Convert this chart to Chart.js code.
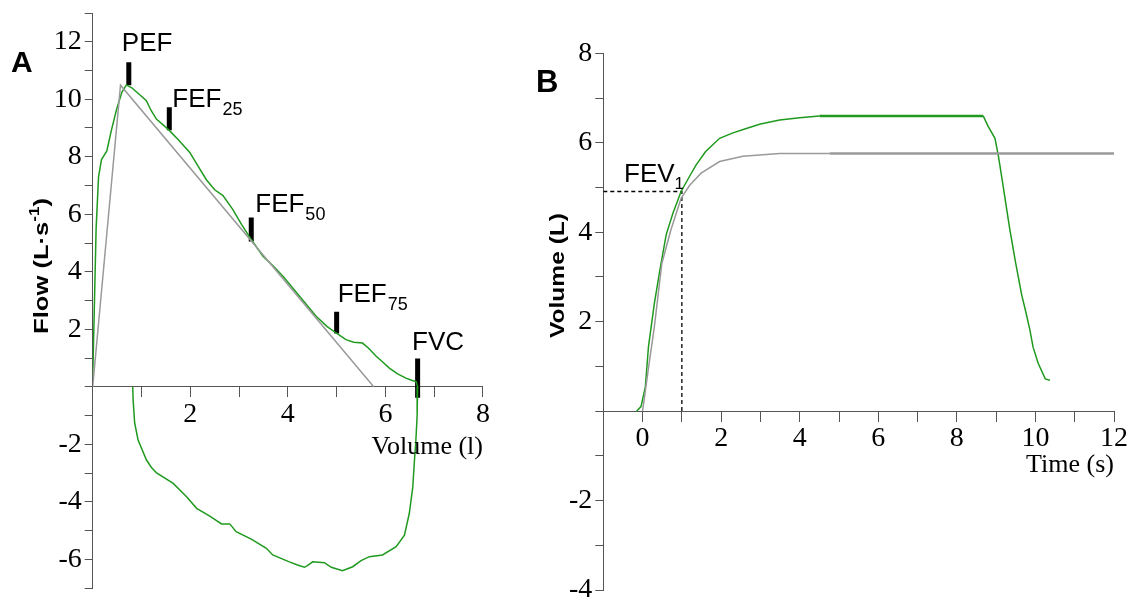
<!DOCTYPE html>
<html>
<head>
<meta charset="utf-8">
<script src="https://cdn.jsdelivr.net/npm/chart.js@4.4.1/dist/chart.umd.min.js"></script>
<style>
  html, body { margin: 0; padding: 0; background: #fff; }
  #wrap { position: relative; width: 1135px; height: 599px; overflow: hidden; }
  canvas { position: absolute; left: 0; top: 0; }
</style>
</head>
<body>
<div id="wrap">
  <canvas id="loopChart" width="1135" height="599"></canvas>
  <canvas id="timeChart" width="1135" height="599"></canvas>
</div>
<script>
// Panel A: Fluss-Volumen-Schleife (Volumen in l, Fluss in L/s)
const loopVolume = [0.0, 0.03, 0.07, 0.12, 0.18, 0.29, 0.38, 0.49, 0.6, 0.69, 0.8, 0.97, 1.1, 1.2, 1.31, 1.45, 1.58, 1.75, 1.99, 2.15, 2.33, 2.5, 2.67, 2.87, 3.05, 3.25, 3.49, 3.7, 3.9, 4.24, 4.58, 4.8, 4.99, 5.19, 5.35, 5.53, 5.65, 5.81, 5.95, 6.08, 6.25, 6.42, 6.55, 6.63,
  6.66, 6.65, 6.62, 6.6, 6.56, 6.49, 6.39, 6.22, 5.94, 5.67, 5.5, 5.33, 5.12, 4.89, 4.75, 4.51, 4.4, 4.34, 4.2, 4.03, 3.69, 3.56, 3.25, 2.94, 2.81, 2.64, 2.4, 2.13, 1.92, 1.65, 1.31, 1.2, 1.1, 0.93, 0.86, 0.83, 0.82];
const loopFlow = [0.3, 2.5, 5.5, 7.3, 7.9, 8.2, 8.9, 9.65, 10.25, 10.5, 10.4, 10.15, 9.95, 9.6, 9.3, 9.1, 8.9, 8.6, 8.15, 7.7, 7.2, 6.85, 6.65, 6.17, 5.65, 5.12, 4.54, 4.2, 3.84, 3.15, 2.45, 2.1, 1.87, 1.64, 1.55, 1.52, 1.35, 1.06, 0.85, 0.65, 0.45, 0.3, 0.22, 0.18,
  0.0, -1.0, -2.0, -2.43, -3.5, -4.4, -5.16, -5.56, -5.85, -5.91, -6.05, -6.26, -6.4, -6.28, -6.12, -6.09, -6.22, -6.28, -6.2, -6.09, -5.85, -5.62, -5.3, -5.04, -4.77, -4.77, -4.5, -4.23, -3.82, -3.36, -3.0, -2.8, -2.54, -1.85, -1.26, -0.5, 0.0];
const idealVolume = [0, 0.57, 5.76];
const idealFlow = [0, 10.49, 0];

// Markierungen PEF / FEF / FVC
const markerNames = ['PEF', 'FEF', 'FEF', 'FEF', 'FVC'];
const markerSubs = ['', '25', '50', '75', ''];
const markerVolume = [0.74, 1.57, 3.25, 5.0, 6.66];
const markerFlowLow = [10.49, 8.92, 5.05, 1.85, -0.38];
const markerFlowHigh = [11.29, 9.72, 5.89, 2.61, 0.98];

const flowTickLabels = [12, 10, 8, 6, 4, 2, -2, -4, -6];
const volumeTickLabels = [2, 4, 6, 8];

// Panel B: Volumen-Zeit-Kurve
const timeGreen = [-0.15, -0.04, 0.07, 0.15, 0.3, 0.44, 0.6, 0.77, 0.98, 1.19, 1.36, 1.6, 1.96, 2.3, 2.64, 3.0, 3.49, 4.0, 4.5, 6.0, 7.5, 8.67, 8.8, 8.97, 9.06, 9.18, 9.35, 9.5, 9.65, 9.76, 9.86, 9.94, 10.07, 10.25, 10.37];
const volumeGreen = [0, 0.1, 0.54, 1.44, 2.41, 3.15, 3.94, 4.42, 4.91, 5.24, 5.5, 5.8, 6.1, 6.22, 6.32, 6.42, 6.51, 6.56, 6.6, 6.6, 6.6, 6.6, 6.36, 6.1, 5.69, 5.02, 4.05, 3.3, 2.6, 2.2, 1.81, 1.43, 1.07, 0.72, 0.69];
const timeGray = [0, 0.13, 0.3, 0.49, 0.72, 0.98, 1.2, 1.49, 1.96, 2.55, 3.49, 4.76, 12];
const volumeGray = [0, 0.84, 1.89, 3.3, 4.05, 4.76, 5.05, 5.32, 5.58, 5.7, 5.76, 5.76, 5.76];
const fev1Time = 1.0;
const fev1Volume = 4.91;

const timeTickLabels = [0, 2, 4, 6, 8, 10, 12];
const volTimeTickLabels = [8, 6, 4, 2, -2, -4];

const GREEN = '#1f9a1f';
const GRAY = '#9a9a9a';
const AXIS = '#555555';
const serif = "'Liberation Serif', 'Times New Roman', serif";
const sans = "'Liberation Sans', Arial, sans-serif";

const pts = (xs, ys) => xs.map((x, i) => ({ x: x, y: ys[i] }));

function axis(min, max, labels, tickLen, pad, afterFit, position) {
  return {
    type: 'linear',
    position: position,
    min: min,
    max: max,
    afterFit: afterFit,
    ticks: {
      stepSize: 1,
      autoSkip: false,
      maxRotation: 0,
      padding: pad,
      color: '#000',
      font: { family: serif, size: 28 },
      callback: v => labels.includes(v) ? String(v) : ''
    },
    grid: { drawOnChartArea: false, drawTicks: true, tickLength: tickLen, color: AXIS, lineWidth: 1 },
    border: { display: true, color: AXIS, width: 1 }
  };
}

// feste Achsenbreiten, damit die Plotflächen genau sitzen
const flatX = s => { s.height = 0; s.paddingLeft = s.paddingRight = s.paddingTop = s.paddingBottom = 0; };
const fixedY = w => s => { s.width = w; s.paddingLeft = s.paddingRight = s.paddingTop = s.paddingBottom = 0; };

function drawSub(ctx, main, sub, x, y) {
  ctx.font = '26px ' + sans;
  ctx.fillText(main, x, y);
  if (sub) {
    const w = ctx.measureText(main).width;
    ctx.font = '18px ' + sans;
    ctx.fillText(sub, x + w + 1, y + 8);
  }
}

// gedrehter Achsentitel, auf Ziellänge gestreckt
function drawRotated(ctx, parts, x, y, targetLen) {
  ctx.save();
  ctx.translate(x, y);
  ctx.rotate(-Math.PI / 2);
  let total = 0;
  parts.forEach(p => { ctx.font = 'bold ' + p.size + 'px ' + sans; p.w = ctx.measureText(p.t).width; total += p.w; });
  ctx.scale(targetLen / total, 1);
  let cx = 0;
  parts.forEach(p => { ctx.font = 'bold ' + p.size + 'px ' + sans; ctx.fillText(p.t, cx, p.rise); cx += p.w; });
  ctx.restore();
}

const labelOffsets = [[-7, -11], [3, 0], [4, -5], [1, -10], [-5.5, -9]];

const textA = {
  id: 'textA',
  afterDraw(chart) {
    const ctx = chart.ctx;
    const xs = chart.scales.x, ys = chart.scales.y;
    ctx.save();
    ctx.fillStyle = '#000';
    ctx.textAlign = 'left';
    ctx.textBaseline = 'alphabetic';
    ctx.font = 'bold 30px ' + sans;
    ctx.fillText('A', 11, 72);
    markerNames.forEach((n, i) => {
      const px = xs.getPixelForValue(markerVolume[i]);
      const py = ys.getPixelForValue(markerFlowHigh[i]);
      drawSub(ctx, n, markerSubs[i], px + labelOffsets[i][0], py + labelOffsets[i][1]);
    });
    ctx.font = '26px ' + serif;
    ctx.textAlign = 'right';
    ctx.fillText('Volume (l)', xs.right, ys.getPixelForValue(0) + 67);
    ctx.textAlign = 'left';
    drawRotated(ctx, [
      { t: 'Flow (L·s', size: 21, rise: 0 },
      { t: '-1', size: 14, rise: -9 },
      { t: ')', size: 21, rise: 0 }
    ], 48, 334, 136);
    ctx.restore();
  }
};

const textB = {
  id: 'textB',
  afterDraw(chart) {
    const ctx = chart.ctx;
    const xs = chart.scales.x, ys = chart.scales.y;
    ctx.save();
    ctx.fillStyle = '#000';
    ctx.textAlign = 'left';
    ctx.textBaseline = 'alphabetic';
    ctx.font = 'bold 31px ' + sans;
    ctx.fillText('B', 536, 92);
    ctx.font = '26px ' + sans;
    ctx.fillText('FEV', 624, ys.getPixelForValue(fev1Volume) - 10);
    const w = ctx.measureText('FEV').width;
    ctx.font = '17px ' + sans;
    ctx.fillText('1', 624 + w, ys.getPixelForValue(fev1Volume) - 3);
    ctx.font = '26px ' + serif;
    ctx.textAlign = 'right';
    ctx.fillText('Time (s)', xs.right, ys.getPixelForValue(0) + 61);
    ctx.textAlign = 'left';
    drawRotated(ctx, [{ t: 'Volume (L)', size: 21, rise: 0 }], 564, 338, 125);
    ctx.restore();
  }
};

const baseOptions = {
  responsive: false,
  animation: false,
  events: [],
  plugins: { legend: { display: false }, tooltip: { enabled: false } },
  elements: { point: { radius: 0 } }
};

// Diagramm A
const markerSets = markerVolume.map((v, i) => ({
  data: [{ x: v, y: markerFlowLow[i] }, { x: v, y: markerFlowHigh[i] }],
  showLine: true, borderColor: '#000', borderWidth: 5, borderCapStyle: 'butt', pointRadius: 0
}));

new Chart(document.getElementById('loopChart'), {
  type: 'scatter',
  data: {
    datasets: [
      { data: pts(idealVolume, idealFlow), showLine: true, borderColor: GRAY, borderWidth: 1.5, pointRadius: 0 },
      { data: pts(loopVolume, loopFlow), showLine: true, borderColor: GREEN, borderWidth: 1.5, pointRadius: 0 }
    ].concat(markerSets)
  },
  options: Object.assign({}, baseOptions, {
    layout: { padding: { left: 0, top: 13, right: 1135 - 483, bottom: 599 - 588 } },
    scales: {
      x: axis(0, 8, volumeTickLabels, 10, 1, flatX, { y: 0 }),
      y: axis(-7, 13, flowTickLabels, 8, 3, fixedY(92.7), 'left')
    }
  }),
  plugins: [textA]
});

// Diagramm B
new Chart(document.getElementById('timeChart'), {
  type: 'scatter',
  data: {
    datasets: [
      { data: pts(timeGray, volumeGray), showLine: true, borderColor: GRAY, borderWidth: 1.5, pointRadius: 0,
        segment: { borderWidth: c => c.p0.parsed.x >= 4.7 ? 2.5 : 1.5 } },
      { data: pts(timeGreen, volumeGreen), showLine: true, borderColor: GREEN, borderWidth: 1.5, pointRadius: 0,
        segment: { borderWidth: c => (c.p0.parsed.x >= 4.4 && c.p1.parsed.x <= 8.7) ? 2.5 : 1.5 } },
      { data: [{ x: -1, y: fev1Volume }, { x: fev1Time, y: fev1Volume }, { x: fev1Time, y: 0 }],
        showLine: true, borderColor: '#000', borderWidth: 1.3, borderDash: [4, 3], pointRadius: 0 }
    ]
  },
  options: Object.assign({}, baseOptions, {
    layout: { padding: { left: 603.3 - 60, top: 53.3, right: 1135 - 1114, bottom: 599 - 590 } },
    scales: {
      x: axis(-1, 12, timeTickLabels, 10, 1, flatX, { y: 0 }),
      y: axis(-4, 8, volTimeTickLabels, 8, 3, fixedY(60), 'left')
    }
  }),
  plugins: [textB]
});
</script>
</body>
</html>
